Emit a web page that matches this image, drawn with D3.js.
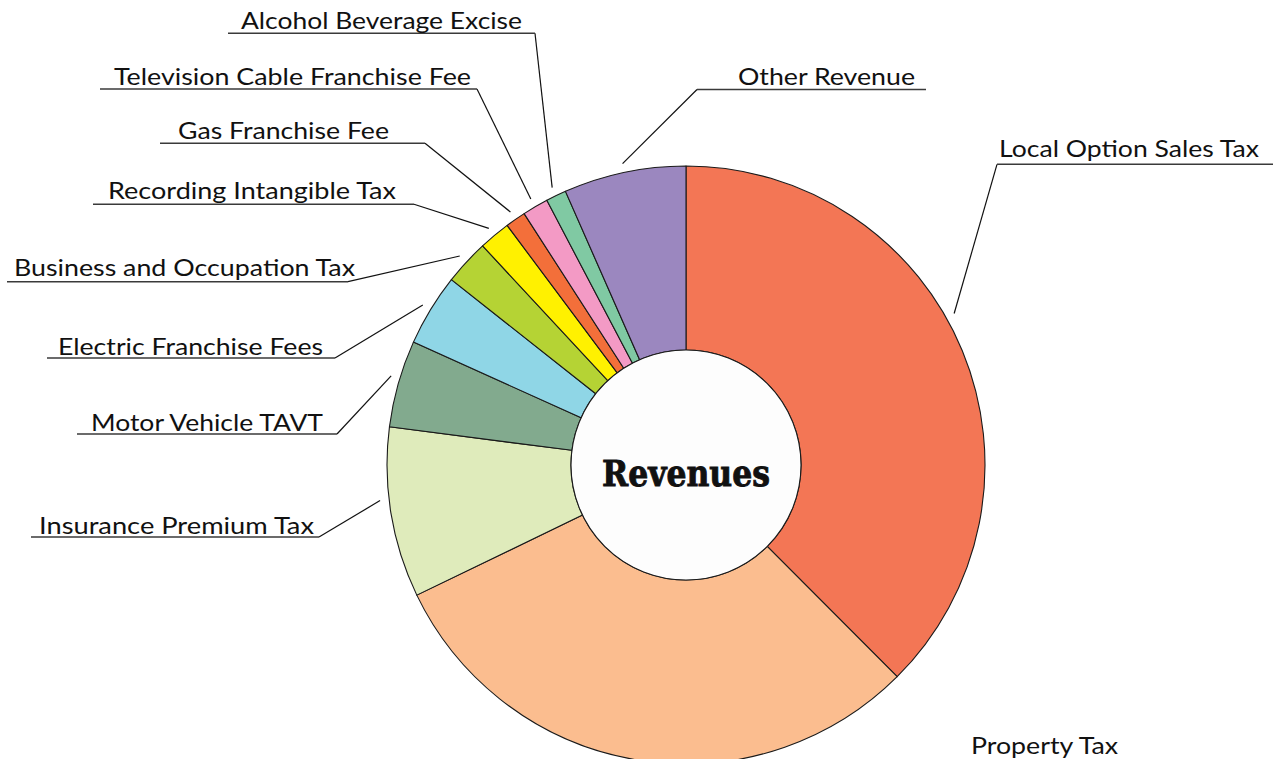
<!DOCTYPE html>
<html>
<head>
<meta charset="utf-8">
<script src="https://cdn.jsdelivr.net/npm/d3@7"></script>
<style>
  html, body { margin: 0; padding: 0; background: #ffffff; }
  svg { display: block; }
  .label { font-family: Lato, "Open Sans", sans-serif; font-size: 24px; fill: #111; }
  .title { font-family: "DejaVu Serif", serif; font-weight: bold; font-size: 35px; fill: #111; stroke: #111; stroke-width: 0.9px; }
</style>
</head>
<body>
<svg id="chart" width="1273" height="759"></svg>
<script>
// Revenue sources, in clockwise order from 12 o'clock
const categories = [
  "Local Option Sales Tax",
  "Property Tax",
  "Insurance Premium Tax",
  "Motor Vehicle TAVT",
  "Electric Franchise Fees",
  "Business and Occupation Tax",
  "Recording Intangible Tax",
  "Gas Franchise Fee",
  "Television Cable Franchise Fee",
  "Alcohol Beverage Excise",
  "Other Revenue"
];
// Share of total revenues (%)
const shares = [37.5, 30.3, 9.2, 4.7, 3.9, 2.45, 1.7, 1.1, 1.4, 1.1, 6.6];

const colors = [
  "#f37655", "#fbbd8f", "#dfebbb", "#82aa8e", "#8fd6e6", "#b5d334",
  "#fff100", "#f36f3a", "#f39ac5", "#80c9a3", "#9b87bf"
];

const centerTitle = "Revenues";

// Label placement: underline (ly, lx0..lx1), text (tx0..tx1, baseline ty),
// which end of the underline the leader attaches to, and a small angular nudge (deg)
const labelLayout = {
  "Local Option Sales Tax":         { ly: 164.3, lx0: 997, lx1: 1273, tx0: 999, tx1: 1259, ty: 157, side: "right", nudge: -7 },
  "Property Tax":                   { ly: 762,   lx0: 958, lx1: 1135, tx0: 971, tx1: 1118, ty: 754, side: "right", nudge: 0 },
  "Insurance Premium Tax":          { ly: 537,   lx0: 31,  lx1: 319,  tx0: 39,  tx1: 314,  ty: 534, side: "left", nudge: 2.6 },
  "Motor Vehicle TAVT":             { ly: 434,   lx0: 77,  lx1: 337,  tx0: 91,  tx1: 323,  ty: 431, side: "left", nudge: 1 },
  "Electric Franchise Fees":        { ly: 358,   lx0: 47,  lx1: 335,  tx0: 58,  tx1: 323,  ty: 355, side: "left", nudge: 0 },
  "Business and Occupation Tax":    { ly: 281.7, lx0: 7,   lx1: 348,  tx0: 14,  tx1: 355,  ty: 276, side: "left", nudge: 0 },
  "Recording Intangible Tax":       { ly: 204.3, lx0: 93,  lx1: 414,  tx0: 108, tx1: 396,  ty: 198.5, side: "left", nudge: 0 },
  "Gas Franchise Fee":              { ly: 143.3, lx0: 160, lx1: 425,  tx0: 178, tx1: 389,  ty: 138.5, side: "left", nudge: 0 },
  "Television Cable Franchise Fee": { ly: 89,    lx0: 100, lx1: 477,  tx0: 114, tx1: 471,  ty: 85, side: "left", nudge: 0 },
  "Alcohol Beverage Excise":        { ly: 33.3,  lx0: 228, lx1: 535,  tx0: 241, tx1: 522,  ty: 29, side: "left", nudge: 0 },
  "Other Revenue":                  { ly: 89.5,  lx0: 697, lx1: 926,  tx0: 738, tx1: 915,  ty: 85, side: "right", nudge: 0 }
};

const cx = 686, cy = 465;
const outerR = 299, innerR = 115, leaderR = 308;

const svg = d3.select("#chart");
const g = svg.append("g").attr("transform", `translate(${cx},${cy})`);

const data = categories.map((c, i) => ({ name: c, value: shares[i], color: colors[i] }));

const pie = d3.pie().sort(null).value(d => d.value).startAngle(0).endAngle(2 * Math.PI);
const arcs = pie(data);

const arc = d3.arc().innerRadius(innerR).outerRadius(outerR);

// Slices
g.selectAll("path.slice")
  .data(arcs)
  .join("path")
  .attr("class", "slice")
  .attr("d", arc)
  .attr("fill", d => d.data.color)
  .attr("stroke", "#1a1a1a")
  .attr("stroke-width", 1.1)
  .attr("stroke-linejoin", "round");

// Centre disc and title
g.append("circle")
  .attr("r", innerR)
  .attr("fill", "#fdfdfd")
  .attr("stroke", "#1a1a1a")
  .attr("stroke-width", 1.1);

g.append("text")
  .attr("class", "title")
  .attr("x", 0)
  .attr("y", 21)
  .attr("text-anchor", "middle")
  .attr("textLength", 168)
  .attr("lengthAdjust", "spacingAndGlyphs")
  .text(centerTitle);

// Leader lines, underlines and labels
const labels = svg.append("g");
arcs.forEach(d => {
  const L = labelLayout[d.data.name];
  const mid = (d.startAngle + d.endAngle) / 2 + L.nudge * Math.PI / 180;
  const [px, py] = d3.pointRadial(mid, leaderR);
  const ax = cx + px, ay = cy + py;
  const joinX = L.side === "left" ? L.lx1 : L.lx0;

  labels.append("line")
    .attr("x1", ax).attr("y1", ay)
    .attr("x2", joinX).attr("y2", L.ly)
    .attr("stroke", "#111")
    .attr("stroke-width", 1.2);

  labels.append("line")
    .attr("x1", L.lx0).attr("y1", L.ly)
    .attr("x2", L.lx1).attr("y2", L.ly)
    .attr("stroke", "#3a3a3a")
    .attr("stroke-width", 1.5);

  labels.append("text")
    .attr("class", "label")
    .attr("x", L.tx0)
    .attr("y", L.ty)
    .attr("textLength", L.tx1 - L.tx0)
    .attr("lengthAdjust", "spacingAndGlyphs")
    .text(d.data.name);
});
</script>
</body>
</html>
